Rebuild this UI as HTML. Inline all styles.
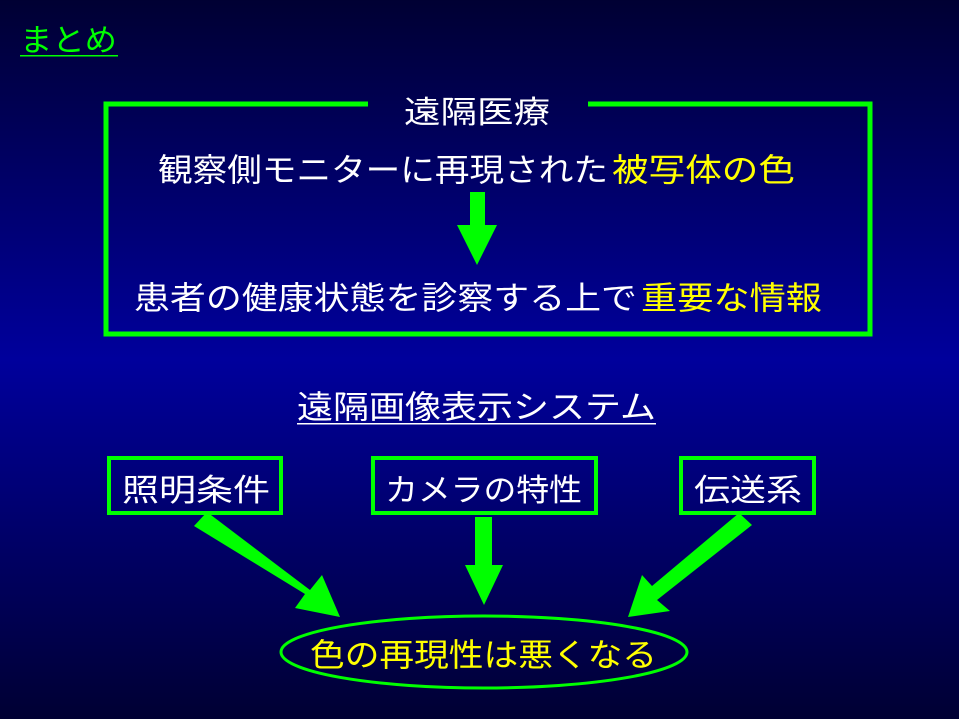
<!DOCTYPE html>
<html><head><meta charset="utf-8"><style>
html,body{margin:0;padding:0;width:959px;height:719px;overflow:hidden}
svg text{font-family:"Liberation Sans","Noto Sans CJK JP",sans-serif}
</style></head><body>
<svg width="959" height="719" viewBox="0 0 959 719" xmlns="http://www.w3.org/2000/svg">
<defs>
<linearGradient id="bg" x1="0" y1="0" x2="0" y2="1">
<stop offset="0" stop-color="#000033"/>
<stop offset="0.5" stop-color="#00009c"/>
<stop offset="1" stop-color="#000033"/>
</linearGradient>
<marker id="ah" viewBox="0 0 10 10" refX="9" refY="5" markerWidth="2.4" markerHeight="2.4" markerUnits="strokeWidth" orient="auto"><path d="M0,0 L10,5 L0,10 z" fill="#00ff00"/></marker>
</defs>
<rect width="959" height="719" fill="url(#bg)"/>
<text x="20" y="51" font-size="31" fill="#00ff00" textLength="97" lengthAdjust="spacingAndGlyphs">まとめ</text>
<rect x="20" y="55" width="98" height="1.5" fill="#00ff00"/>

<path d="M368,104 H106 V334 H870 V104 H588" fill="none" stroke="#00ff00" stroke-width="5"/>
<text x="404" y="123" font-size="31" fill="#fff" textLength="146" lengthAdjust="spacingAndGlyphs">遠隔医療</text>
<text x="158" y="181" font-size="32" fill="#fff" textLength="450" lengthAdjust="spacingAndGlyphs">観察側モニターに再現された</text>
<text x="612" y="181" font-size="32" fill="#ffff00" textLength="183" lengthAdjust="spacingAndGlyphs">被写体の色</text>
<path d="M470,192 H485 V225 H497 L477,265 L457,225 H470 Z" fill="#00ff00"/>
<text x="134" y="309" font-size="32" fill="#fff" textLength="503" lengthAdjust="spacingAndGlyphs">患者の健康状態を診察する上で</text>
<text x="641" y="309" font-size="32" fill="#ffff00" textLength="181" lengthAdjust="spacingAndGlyphs">重要な情報</text>

<text x="297" y="418" font-size="32" fill="#fff" textLength="359" lengthAdjust="spacingAndGlyphs">遠隔画像表示システム</text>
<rect x="297" y="423" width="359" height="1.5" fill="#fff"/>

<rect x="109" y="458" width="172" height="55" fill="none" stroke="#00ff00" stroke-width="4"/>
<text x="122" y="501" font-size="31" fill="#fff" textLength="148" lengthAdjust="spacingAndGlyphs">照明条件</text>
<rect x="373" y="458" width="223" height="55" fill="none" stroke="#00ff00" stroke-width="4"/>
<text x="385" y="501" font-size="31" fill="#fff" textLength="197" lengthAdjust="spacingAndGlyphs">カメラの特性</text>
<rect x="681" y="458" width="133" height="55" fill="none" stroke="#00ff00" stroke-width="4"/>
<text x="694" y="501" font-size="31" fill="#fff" textLength="108" lengthAdjust="spacingAndGlyphs">伝送系</text>

<path d="M194,526 L207,512 L310,590 L322,575 L340,617 L295,608 L305,594 Z" fill="#00ff00"/>
<path d="M475,517 H492 V565 H503 L484,605 L465,565 H475 Z" fill="#00ff00"/>
<path d="M739,513 L752,525 L657,600 L670,611 L628,617 L642,575 L652,586 Z" fill="#00ff00"/>

<ellipse cx="484" cy="652" rx="203" ry="36" fill="none" stroke="#00ff00" stroke-width="3"/>
<text x="310" y="666" font-size="32" fill="#ffff00" textLength="347" lengthAdjust="spacingAndGlyphs">色の再現性は悪くなる</text>
</svg>
</body></html>
